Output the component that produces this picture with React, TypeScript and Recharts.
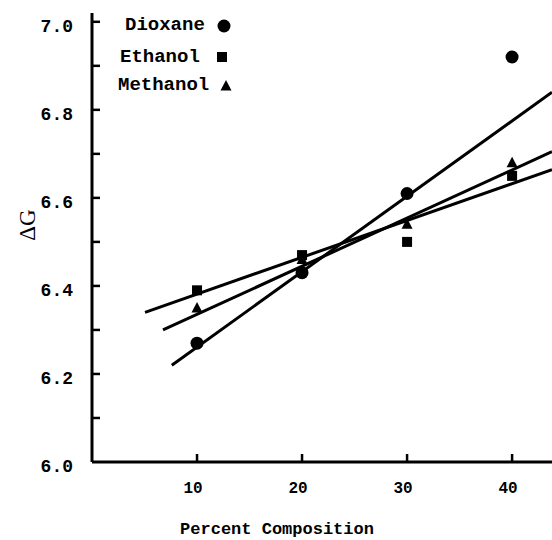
import React from 'react';
import { ComposedChart, XAxis, YAxis, Scatter, Line, Legend, Label } from 'recharts';

// measured points
const composition = [10, 20, 30, 40];
const dioxane = [6.27, 6.43, 6.61, 6.92];
const ethanol = [6.39, 6.47, 6.5, 6.65];
const methanol = [6.35, 6.46, 6.54, 6.68];

// straight fit lines, start and end as drawn
const dioxaneFitX = [7.6, 43.8];
const dioxaneFitY = [6.22, 6.84];
const ethanolFitX = [5.05, 43.8];
const ethanolFitY = [6.34, 6.664];
const methanolFitX = [6.76, 43.8];
const methanolFitY = [6.3, 6.705];

const xTicks = [10, 20, 30, 40];
const yTicks = [6.0, 6.1, 6.2, 6.3, 6.4, 6.5, 6.6, 6.7, 6.8, 6.9, 7.0];
const seriesNames = ['Dioxane', 'Ethanol', 'Methanol'];

const pts = (ys: number[]) => composition.map((x, i) => ({ x, y: ys[i] }));
const fit = (xs: number[], ys: number[]) => xs.map((x, i) => ({ x, y: ys[i] }));

const MONO = "'Liberation Mono', 'DejaVu Sans Mono', monospace";

const Circle = (p: any) => <circle cx={p.cx} cy={p.cy} r={6.5} fill="#000" />;
const Square = (p: any) => <rect x={p.cx - 5} y={p.cy - 5} width={10} height={10} fill="#000" />;
const Triangle = (p: any) => (
  <polygon points={`${p.cx},${p.cy - 6} ${p.cx - 5.5},${p.cy + 4.5} ${p.cx + 5.5},${p.cy + 4.5}`} fill="#000" />
);

function YTick({ x, y, payload }: any) {
  const v = payload.value as number;
  const major = Math.round(v * 10) % 2 === 0;
  return (
    <g>
      {v > 6.0 && <line x1={x} y1={y} x2={x + 8} y2={y} stroke="#000" strokeWidth={2.5} />}
      {major && (
        <text x={x - 19} y={y + 5} textAnchor="end" dominantBaseline="middle" fontFamily={MONO} fontWeight="bold" fontSize={18} fill="#000">
          {v.toFixed(1)}
        </text>
      )}
    </g>
  );
}

function XTick({ x, y, payload }: any) {
  return (
    <g>
      <line x1={x} y1={y} x2={x} y2={y - 8} stroke="#000" strokeWidth={2.5} />
      <text x={x - 4} y={y + 27} textAnchor="middle" dominantBaseline="middle" fontFamily={MONO} fontWeight="bold" fontSize={16} fill="#000">
        {payload.value}
      </text>
    </g>
  );
}

// legend rows: text left, text middle, marker centre
const legendRows = [
  { tx: 125, ty: 25, mx: 224, my: 26, Mark: Circle },
  { tx: 120, ty: 57, mx: 222, my: 57, Mark: Square },
  { tx: 118, ty: 85, mx: 226, my: 86, Mark: Triangle },
];

function LegendBox() {
  return (
    <svg width={260} height={110} style={{ display: 'block' }}>
      {seriesNames.map((name, i) => {
        const r = legendRows[i];
        const M = r.Mark;
        return (
          <g key={name}>
            <text x={r.tx} y={r.ty} dominantBaseline="middle" fontFamily={MONO} fontWeight="bold" fontSize={19} fill="#000">
              {name}
            </text>
            <M cx={r.mx} cy={r.my} />
          </g>
        );
      })}
    </svg>
  );
}

export default function App() {
  return (
    <div style={{ position: 'absolute', left: 0, top: 0, width: 552, height: 540, background: '#fff' }}>
      <ComposedChart width={552} height={540} margin={{ top: 13, right: 0, bottom: 0, left: 0 }}>
        <XAxis
          type="number"
          dataKey="x"
          domain={[0, 43.8]}
          allowDataOverflow
          ticks={xTicks}
          height={78}
          tickSize={0}
          tickMargin={0}
          tickLine={false}
          axisLine={{ stroke: '#000', strokeWidth: 3 }}
          tick={<XTick />}
        >
          <Label
            content={({ viewBox }: any) => (
              <text x={viewBox.x + 185} y={viewBox.y + 72} textAnchor="middle" fontFamily={MONO} fontWeight="bold" fontSize={17} fill="#000">
                Percent Composition
              </text>
            )}
          />
        </XAxis>
        <YAxis
          type="number"
          domain={[6.0, 7.02]}
          allowDataOverflow
          ticks={yTicks}
          width={92}
          tickSize={0}
          tickMargin={0}
          tickLine={false}
          axisLine={{ stroke: '#000', strokeWidth: 3 }}
          tick={<YTick />}
        >
          <Label
            content={() => (
              <text
                x={30}
                y={225}
                transform="rotate(-90, 30, 225)"
                textAnchor="middle"
                dominantBaseline="middle"
                fontFamily="'Liberation Serif', serif"
                fontSize={23}
                fill="#000"
              >
                ΔG
              </text>
            )}
          />
        </YAxis>
        <Legend
          layout="vertical"
          align="center"
          verticalAlign="middle"
          wrapperStyle={{ left: 0, top: 0, width: 260, height: 110 }}
          content={() => <LegendBox />}
        />
        <Line data={fit(dioxaneFitX, dioxaneFitY)} dataKey="y" type="linear" stroke="#000" strokeWidth={3} dot={false} isAnimationActive={false} legendType="none" />
        <Line data={fit(ethanolFitX, ethanolFitY)} dataKey="y" type="linear" stroke="#000" strokeWidth={3} dot={false} isAnimationActive={false} legendType="none" />
        <Line data={fit(methanolFitX, methanolFitY)} dataKey="y" type="linear" stroke="#000" strokeWidth={3} dot={false} isAnimationActive={false} legendType="none" />
        <Scatter name="Dioxane" data={pts(dioxane)} dataKey="y" shape={Circle} isAnimationActive={false} />
        <Scatter name="Ethanol" data={pts(ethanol)} dataKey="y" shape={Square} isAnimationActive={false} />
        <Scatter name="Methanol" data={pts(methanol)} dataKey="y" shape={Triangle} isAnimationActive={false} />
      </ComposedChart>
    </div>
  );
}
